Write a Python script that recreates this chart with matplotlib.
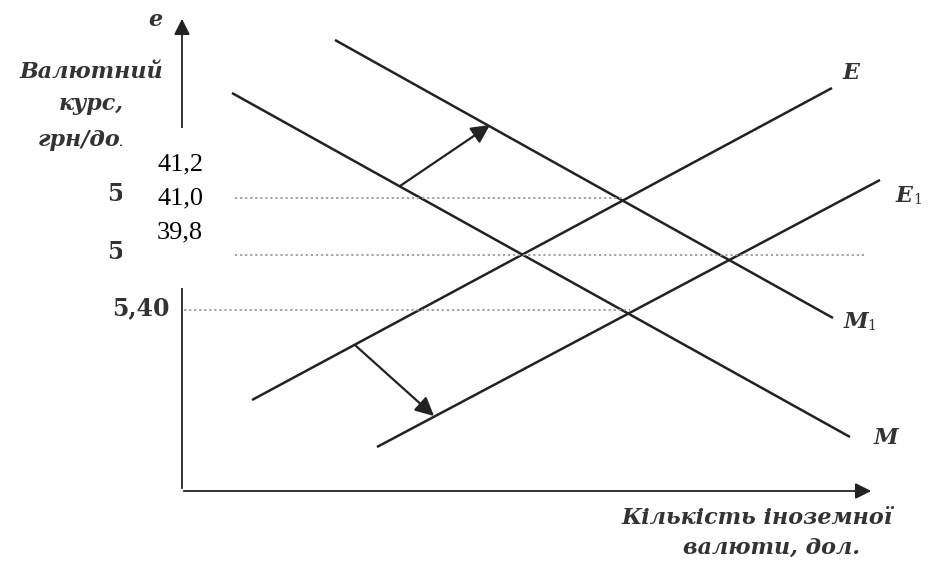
import matplotlib
matplotlib.use("Agg")
import matplotlib.pyplot as plt
from matplotlib.patches import Rectangle

# scheme geometry, in picture pixels (x right, y down)
line_names = ["M", "M1", "E", "E1"]
line_x = [(232, 850), (335, 833), (252, 832), (377, 880)]
line_y = [(93, 437), (40, 318), (400, 88), (447, 180)]

# dotted price levels: y, x start, x end
level_y = [198, 255, 310]
level_x0 = [235, 235, 184]
level_x1 = [624, 865, 630]

# shift arrows: start -> end
shift_from = [(400, 186), (356, 346)]
shift_to = [(490, 125), (434, 416)]

price_labels = ["41,2", "41,0", "39,8"]
old_labels = ["5", "5", "5,40"]

ink = "#222222"
txt = "#333333"
serif = "DejaVu Serif"

fig = plt.figure(figsize=(9.3, 5.74), dpi=100)
ax = fig.add_axes([0, 0, 1, 1])
ax.set_xlim(0, 930)
ax.set_ylim(574, 0)
ax.axis("off")

# axes with arrow heads
ax.annotate("", xy=(182, 16), xytext=(182, 491),
            arrowprops=dict(arrowstyle="-|>", color=ink, lw=1.3, mutation_scale=24))
ax.annotate("", xy=(874, 491), xytext=(181, 491),
            arrowprops=dict(arrowstyle="-|>", color=ink, lw=1.3, mutation_scale=24))

for xs, ys in zip(line_x, line_y):
    ax.plot(xs, ys, color=ink, lw=1.8, solid_capstyle="butt")

for y, x0, x1 in zip(level_y, level_x0, level_x1):
    ax.plot([x0, x1], [y, y], color="#9a9a9a", lw=1.3, ls=(0, (1.2, 1.6)))

for a, b in zip(shift_from, shift_to):
    ax.annotate("", xy=b, xytext=a,
                arrowprops=dict(arrowstyle="-|>", color=ink, lw=1.6,
                                mutation_scale=28, shrinkA=0, shrinkB=0))

# curve labels
lab = dict(fontfamily=serif, fontstyle="italic", fontweight="bold",
           fontsize=16, color=txt, va="center", ha="center")
sub = dict(fontfamily=serif, fontsize=10, color=txt, va="center", ha="left")
ax.text(851, 73, "E", **lab)
ax.text(904, 196, "E", **lab)
ax.text(913, 200, "1", **sub)
ax.text(856, 322, "M", **lab)
ax.text(867, 326, "1", **sub)
ax.text(886, 438, "M", **lab)

# axis titles
ax.text(155, 20, "e", **lab)
ttl = dict(lab, fontsize=16)
ax.text(91, 72, "Валютний", **ttl)
ax.text(91, 104, "курс,", **ttl)
ax.text(91, 140, "грн/дол.", **ttl)
ax.text(757, 518, "Кількість іноземної", **ttl)
ax.text(771, 548, "валюти, дол.", **ttl)

# original price marks (partly hidden under the pasted box)
num = dict(fontfamily=serif, fontweight="bold", fontsize=17, color=txt,
           va="center", ha="right")
ax.text(123, 194, old_labels[0], **num)
ax.text(123, 252, old_labels[1], **num)
ax.text(170, 308, old_labels[2], **num)

# pasted white box with new prices
ax.add_patch(Rectangle((122, 128), 110, 160, facecolor="white",
                       edgecolor="none", zorder=5))
for i, s in enumerate(price_labels):
    ax.text(157, 164 + i * 34, s, fontfamily="Liberation Serif", fontsize=19,
            color="black", va="center", ha="left", zorder=6)

fig.savefig("out.png", dpi=100, facecolor="white")
